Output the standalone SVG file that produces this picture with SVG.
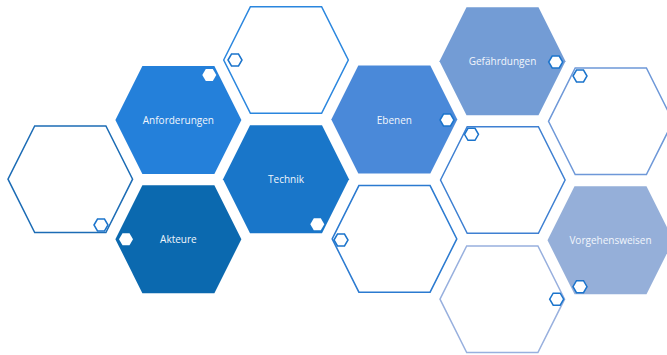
<svg xmlns="http://www.w3.org/2000/svg" xmlns:xlink="http://www.w3.org/1999/xlink" width="667" height="355" viewBox="0 0 667 355">
  <style>
    .lbl { font-family: "Open Sans", "Liberation Sans", sans-serif; font-size: 10px; fill: #F2F6FC; text-anchor: middle; dominant-baseline: central; }
    .ol { fill: #FFFFFF; stroke-width: 1.5; stroke-linejoin: miter; }
    .dot { fill: #FFFFFF; stroke: #1B74CC; stroke-width: 1.5; }
    .dotw { fill: #FFFFFF; stroke: none; }
  </style>
  <defs>
    <polygon id="hx" points="-63,0 -36,-54 36,-54 63,0 36,54 -36,54"/>
    <polygon id="hxo" points="-62.3,0 -35.6,-53.3 35.6,-53.3 62.3,0 35.6,53.3 -35.6,53.3"/>
    <polygon id="sh" points="-7,0 -3.5,-6 3.5,-6 7,0 3.5,6 -3.5,6"/>
  </defs>
  <rect width="667" height="355" fill="#FFFFFF"/>

  <g id="hex-left-outline">
    <use href="#hxo" transform="translate(70.3,179.2)" class="ol" stroke="#1C6CB5"/>
    <use href="#sh" transform="translate(101,225)" class="dot"/>
  </g>

  <g id="hex-top-outline">
    <use href="#hxo" transform="translate(286,60)" class="ol" stroke="#2A86DE"/>
    <use href="#sh" transform="translate(235,60)" class="dot"/>
  </g>

  <g id="node-anforderungen">
    <use href="#hx" transform="translate(178.4,120)" fill="#2480DA"/>
    <use href="#sh" transform="translate(209.3,75)" class="dotw"/>
    <text class="lbl" x="178.4" y="120">Anforderungen</text>
  </g>

  <g id="node-akteure">
    <use href="#hx" transform="translate(178.4,239.2)" fill="#0B69AF"/>
    <use href="#sh" transform="translate(126,239.3)" class="dotw"/>
    <text class="lbl" x="178.4" y="239.2">Akteure</text>
  </g>

  <g id="node-technik">
    <use href="#hx" transform="translate(286,179.2)" fill="#1976C9"/>
    <use href="#sh" transform="translate(317.3,224.3)" class="dotw"/>
    <text class="lbl" x="286" y="179.2">Technik</text>
  </g>

  <g id="node-ebenen">
    <use href="#hx" transform="translate(394.3,119.5)" fill="#4A89D9"/>
    <use href="#sh" transform="translate(447,120)" class="dot"/>
    <text class="lbl" x="394.3" y="119.5">Ebenen</text>
  </g>

  <g id="hex-below-ebenen-outline">
    <use href="#hxo" transform="translate(394.5,238.9)" class="ol" stroke="#2B7AD0"/>
    <use href="#sh" transform="translate(341,240)" class="dot"/>
  </g>

  <g id="node-gefaehrdungen">
    <use href="#hx" transform="translate(502.5,61.2)" fill="#739CD5"/>
    <use href="#sh" transform="translate(555.7,62)" class="dot"/>
    <text class="lbl" x="502.5" y="61.2">Gefährdungen</text>
  </g>

  <g id="hex-middle-outline">
    <use href="#hxo" transform="translate(502.8,180)" class="ol" stroke="#3F80D2"/>
    <use href="#sh" transform="translate(471.5,134.3)" class="dot"/>
  </g>

  <g id="hex-bottom-outline">
    <use href="#hxo" transform="translate(502.3,299.2)" class="ol" stroke="#98B0DE"/>
    <use href="#sh" transform="translate(556.7,299.2)" class="dot"/>
  </g>

  <g id="hex-right-outline">
    <use href="#hxo" transform="translate(610.8,121.3)" class="ol" stroke="#6E98D8"/>
    <use href="#sh" transform="translate(580,76)" class="dot"/>
  </g>

  <g id="node-vorgehensweisen">
    <use href="#hx" transform="translate(610.5,240.2)" fill="#95AFD9"/>
    <use href="#sh" transform="translate(580,286.7)" class="dot"/>
    <text class="lbl" x="610.5" y="240.2">Vorgehensweisen</text>
  </g>

  <g id="connectors"></g>
</svg>
